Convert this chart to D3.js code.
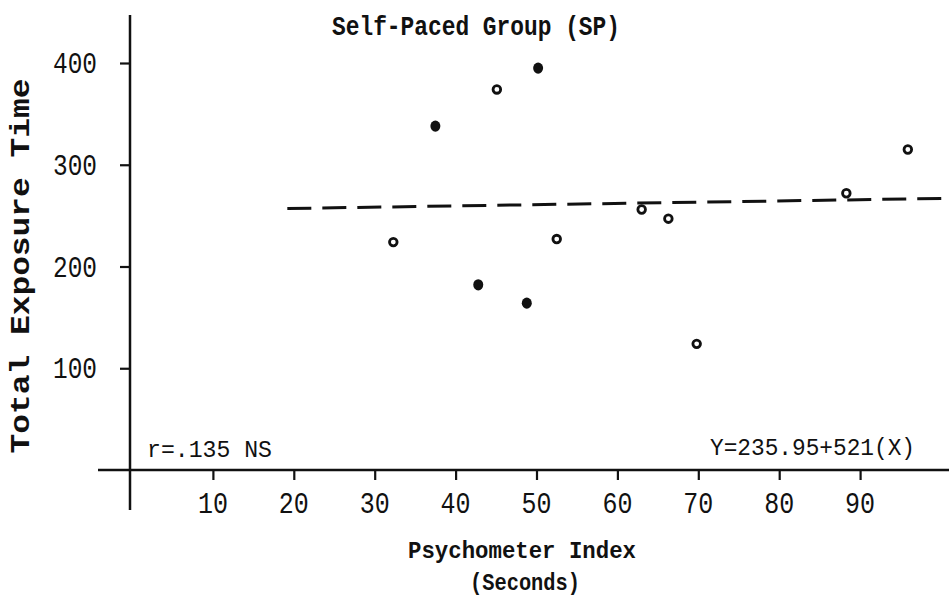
<!DOCTYPE html>
<html>
<head>
<meta charset="utf-8">
<script src="https://cdn.jsdelivr.net/npm/d3@7"></script>
<style>
  body { margin: 0; background: #fff; }
  svg { display: block; }
  text { font-family: "Liberation Mono", "DejaVu Sans Mono", monospace; fill: #111; }
</style>
</head>
<body>
<div id="chart"></div>
<script>
// data
var filledX = [50.2, 37.5, 42.8, 48.8];
var filledY = [395, 338, 182, 164];
var openX = [45.1, 32.3, 52.5, 63.0, 66.3, 88.3, 69.8, 95.9];
var openY = [374, 224, 227, 256, 247, 272, 124, 315];
var fitX = [19.2, 101];
var fitY = [257, 267];
var xTicks = [10, 20, 30, 40, 50, 60, 70, 80, 90];
var yTicks = [100, 200, 300, 400];

var width = 949, height = 604;

var svg = d3.select("#chart").append("svg")
  .attr("width", width)
  .attr("height", height);

var x = d3.scaleLinear().domain([0, 100]).range([132, 941]);
var y = d3.scaleLinear().domain([0, 400]).range([470, 63]);

// text helper: size sets height, len squeezes to width
function label(str, px, py, size, len, anchor, bold) {
  var t = svg.append("text")
    .attr("x", px)
    .attr("y", py)
    .attr("font-size", size)
    .attr("font-weight", bold ? "bold" : "normal")
    .attr("text-anchor", anchor || "start")
    .text(str);
  if (len) t.attr("textLength", len).attr("lengthAdjust", "spacingAndGlyphs");
  return t;
}

// axes lines
svg.append("line")
  .attr("x1", 130).attr("x2", 130)
  .attr("y1", 15).attr("y2", 510)
  .attr("stroke", "#111").attr("stroke-width", 2.5);
svg.append("line")
  .attr("x1", 98).attr("x2", 949)
  .attr("y1", 470).attr("y2", 470)
  .attr("stroke", "#111").attr("stroke-width", 2.5);

// y axis ticks
var yAxis = d3.axisLeft(y).tickValues(yTicks).tickSize(10).tickFormat("");
var gy = svg.append("g").attr("transform", "translate(130,0)").call(yAxis);
gy.select(".domain").remove();
gy.selectAll(".tick line").attr("stroke", "#111").attr("stroke-width", 2.2);

yTicks.forEach(function(v) {
  label(String(v), 97, y(v) + 10, 29, 44, "end", false);
});

// x axis ticks
var xAxis = d3.axisBottom(x).tickValues(xTicks).tickSize(10).tickFormat("");
var gx = svg.append("g").attr("transform", "translate(0,470)").call(xAxis);
gx.select(".domain").remove();
gx.selectAll(".tick line").attr("stroke", "#111").attr("stroke-width", 2.2);

xTicks.forEach(function(v) {
  label(String(v), x(v), 513, 29, 30, "middle", false);
});

// regression line
svg.append("line")
  .attr("x1", x(fitX[0])).attr("y1", y(fitY[0]))
  .attr("x2", x(fitX[1])).attr("y2", y(fitY[1]))
  .attr("stroke", "#111").attr("stroke-width", 3)
  .attr("stroke-dasharray", "24,11");

// points
svg.selectAll(".filled")
  .data(d3.range(filledX.length))
  .enter().append("ellipse")
  .attr("class", "filled")
  .attr("cx", function(i) { return x(filledX[i]); })
  .attr("cy", function(i) { return y(filledY[i]); })
  .attr("rx", 5).attr("ry", 5.6)
  .attr("fill", "#111");

svg.selectAll(".open")
  .data(d3.range(openX.length))
  .enter().append("circle")
  .attr("class", "open")
  .attr("cx", function(i) { return x(openX[i]); })
  .attr("cy", function(i) { return y(openY[i]); })
  .attr("r", 3.8)
  .attr("fill", "#fff")
  .attr("stroke", "#111").attr("stroke-width", 2.8);

// titles and notes
label("Self-Paced Group (SP)", 332, 35, 27, 288, "start", true);
label("r=.135 NS", 147, 457, 24, 125, "start", false);
label("Y=235.95+521(X)", 710, 455, 24, 205, "start", false);
label("Psychometer Index", 408, 558, 24, 228, "start", true);
label("(Seconds)", 470, 590, 24, 110, "start", true);

svg.append("text")
  .attr("transform", "translate(29,266) rotate(-90)")
  .attr("font-size", 27)
  .attr("font-weight", "bold")
  .attr("text-anchor", "middle")
  .attr("textLength", 375)
  .attr("lengthAdjust", "spacingAndGlyphs")
  .text("Total Exposure Time");
</script>
</body>
</html>
